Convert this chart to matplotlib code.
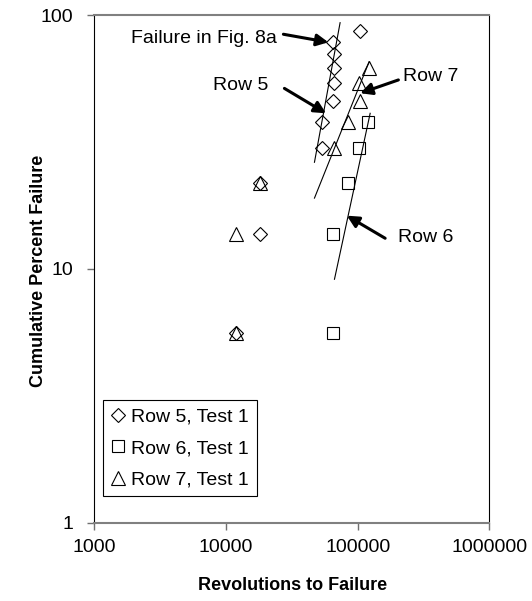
import matplotlib
matplotlib.use("Agg")
import matplotlib.pyplot as plt
from matplotlib.ticker import FixedLocator, FixedFormatter, NullLocator

plt.rcParams["font.family"] = ["Liberation Sans", "DejaVu Sans"]

# ── data (median ranks, n = 12) ─────────────────────────────
row5_x = [12000, 18000, 18000, 54000, 53500, 65500, 66600, 66600, 66600, 65500, 105000]
row5_y = [5.6, 13.7, 21.8, 29.8, 37.9, 46.0, 54.0, 62.1, 70.2, 78.2, 86.3]

row6_x = [65500, 65500, 84000, 102600, 120500]
row6_y = [5.6, 13.7, 21.8, 29.8, 37.9]

row7_x = [12000, 12000, 18000, 66600, 85000, 104000, 102600, 122000]
row7_y = [5.6, 13.7, 21.8, 29.8, 37.9, 46.0, 54.0, 62.1]

# fit lines (end points)
fit5_x, fit5_y = [47000, 73600], [26.3, 93.3]
fit7_x, fit7_y = [47000, 122300], [19.0, 65.5]
fit6_x, fit6_y = [66700, 124500], [9.1, 41.0]

x_ticks = [1000, 10000, 100000, 1000000]
y_ticks = [1, 10, 100]

# annotations: label, text pos, alignment, arrow tail, arrow head
notes = [
    ("Failure in Fig. 8a", (24300, 80.5), "right", (27300, 84.0), (60000, 78.1)),
    ("Row 5", (12870, 52.7), "center", (27790, 51.4), (57620, 41.0)),
    ("Row 7", (360000, 57.0), "center", (204000, 55.5), (104500, 49.2)),
    ("Row 6", (330000, 13.3), "center", (161800, 13.2), (82800, 16.2)),
]

fig = plt.figure(figsize=(5.32, 6.01), dpi=100)
ax = fig.add_axes([0.1773, 0.1303, 0.7424, 0.8447])
ax.set_xscale("log")
ax.set_yscale("log")
ax.set_xlim(1000, 1000000)
ax.set_ylim(1, 100)

mk = dict(linestyle="none", mfc="none", mec="black", mew=0.8)
ax.plot(row5_x, row5_y, marker="D", ms=6.8, label="Row 5, Test 1", **mk)
ax.plot(row6_x, row6_y, marker="s", ms=8.5, label="Row 6, Test 1", **mk)
ax.plot(row7_x, row7_y, marker="^", ms=9.5, label="Row 7, Test 1", **mk)

for fx, fy in [(fit5_x, fit5_y), (fit7_x, fit7_y), (fit6_x, fit6_y)]:
    ax.plot(fx, fy, color="black", lw=0.8)

for label, tpos, ha, tail, head in notes:
    ax.text(tpos[0], tpos[1], label, ha=ha, va="center", fontsize=14)
    ax.annotate("", xy=head, xytext=tail,
                arrowprops=dict(arrowstyle="-|>,head_length=0.7,head_width=0.35",
                                lw=2.2, color="black", shrinkA=0, shrinkB=0))

ax.xaxis.set_major_locator(FixedLocator(x_ticks))
ax.xaxis.set_major_formatter(FixedFormatter([str(v) for v in x_ticks]))
ax.yaxis.set_major_locator(FixedLocator(y_ticks))
ax.yaxis.set_major_formatter(FixedFormatter([str(v) for v in y_ticks]))
ax.xaxis.set_minor_locator(NullLocator())
ax.yaxis.set_minor_locator(NullLocator())
ax.tick_params(axis="x", direction="out", length=5, width=1, colors="#707070",
               labelcolor="black", labelsize=14, pad=7)
ax.tick_params(axis="y", direction="out", length=5, width=1, colors="#707070",
               labelcolor="black", labelsize=14, pad=10)

for side in ["top", "bottom"]:
    ax.spines[side].set_color("#808080")
    ax.spines[side].set_linewidth(1.5)
for side in ["left", "right"]:
    ax.spines[side].set_color("black")
    ax.spines[side].set_linewidth(0.8)

fig.text(0.549, 0.025, "Revolutions to Failure", ha="center", va="center",
         fontsize=13, fontweight="bold")
fig.text(0.072, 0.55, "Cumulative Percent Failure", ha="center", va="center",
         rotation=90, fontsize=13, fontweight="bold")

leg = ax.legend(loc="upper left", bbox_to_anchor=(0.194, 0.3344),
                bbox_transform=fig.transFigure, fontsize=14, frameon=True,
                fancybox=False, edgecolor="black", framealpha=1,
                handlelength=0.7, handletextpad=0.35, borderpad=0.4,
                labelspacing=0.72, borderaxespad=0)
leg.get_frame().set_linewidth(0.8)

plt.savefig("out.png", dpi=100)
